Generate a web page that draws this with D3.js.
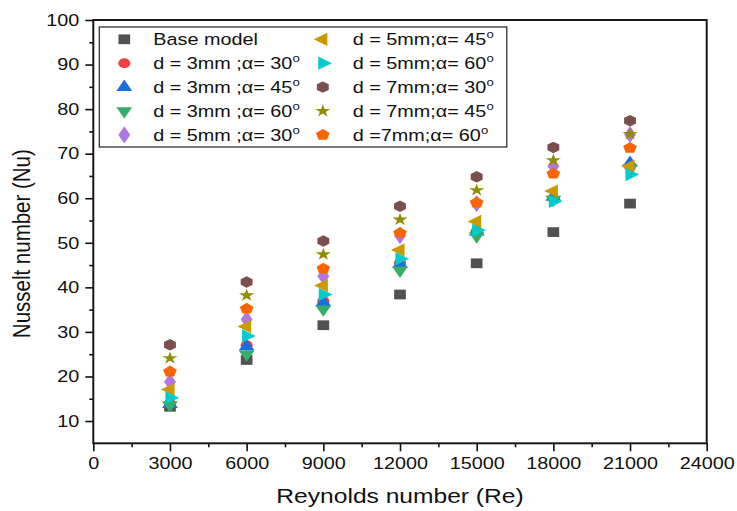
<!DOCTYPE html>
<html>
<head>
<meta charset="utf-8">
<script src="https://cdn.jsdelivr.net/npm/d3@7"></script>
<style>
  body { margin: 0; background: #fff; }
  text { font-family: Arial, "Liberation Sans", sans-serif; fill: #111; }
</style>
</head>
<body>
<div id="chart"></div>
<script>
// Data
const reynolds = [3000, 6000, 9000, 12000, 15000, 18000, 21000]
const baseModel = [13.2, 23.7, 31.5, 38.4, 45.4, 52.4, 58.8]
const d3a30 = [14.0, 27.0, 36.9, 45.5, 52.6, 60.0, 67.1]
const d3a45 = [13.8, 26.7, 36.6, 45.2, 52.5, 60.3, 67.9]
const d3a60 = [13.6, 25.0, 35.1, 43.8, 51.5, 59.7, 66.8]
const d5a30 = [18.8, 32.8, 42.5, 51.6, 58.8, 67.2, 74.3]
const d5a45 = [17.1, 31.2, 40.4, 48.4, 54.8, 61.6, 67.2]
const d5a60 = [15.2, 29.1, 38.4, 46.4, 52.8, 59.3, 65.3]
const d7a30 = [27.1, 41.2, 50.4, 58.2, 64.8, 71.4, 77.4]
const d7a45 = [24.1, 38.2, 47.4, 55.2, 61.8, 68.5, 74.4]
const d7a60 = [21.1, 35.2, 44.2, 52.2, 59.0, 65.5, 71.3]
const xTicks = [0, 3000, 6000, 9000, 12000, 15000, 18000, 21000, 24000]
const yTicks = [10, 20, 30, 40, 50, 60, 70, 80, 90, 100]

// legend text, angle, values, colour, marker
const series = [
  {pre: 'Base model', ang: null, vals: baseModel, color: '#515151', shape: 'square'},
  {pre: 'd = 3mm ;', ang: '30', vals: d3a30, color: '#f14040', shape: 'circle'},
  {pre: 'd = 3mm ;', ang: '45', vals: d3a45, color: '#1a6fdf', shape: 'up'},
  {pre: 'd = 3mm ;', ang: '60', vals: d3a60, color: '#37ad6b', shape: 'down'},
  {pre: 'd = 5mm ;', ang: '30', vals: d5a30, color: '#b177de', shape: 'diamond'},
  {pre: 'd = 5mm;', ang: '45', vals: d5a45, color: '#cc9900', shape: 'left'},
  {pre: 'd = 5mm;', ang: '60', vals: d5a60, color: '#00cbcc', shape: 'right'},
  {pre: 'd = 7mm;', ang: '30', vals: d7a30, color: '#7d4e4e', shape: 'hexagon'},
  {pre: 'd = 7mm;', ang: '45', vals: d7a45, color: '#8e8e00', shape: 'star'},
  {pre: 'd =7mm;', ang: '60', vals: d7a60, color: '#fb6501', shape: 'pentagon'}
]

// Dimensions
const W = 737, H = 511
const margin = {top: 20, right: 30.3, bottom: 67.7, left: 93.3},
    width = W - margin.left - margin.right,
    height = H - margin.top - margin.bottom
const sx = 1.2   // the source picture is stretched sideways

const svg = d3.select('#chart').append('svg')
    .attr('width', W)
    .attr('height', H)

const g = svg.append('g')
    .attr('transform', 'translate(' + margin.left + ',' + margin.top + ')')

// Scales
const x = d3.scaleLinear().domain([0, 24000]).range([0, width])
const y = d3.scaleLinear().domain([5, 100]).range([height, 0])

// regular polygon symbol types
function polygon(n, rot) {
    return {
        draw(ctx, size) {
            const r = Math.sqrt(size / (n / 2 * Math.sin(2 * Math.PI / n)))
            for (let i = 0; i < n; i++) {
                const a = rot + i * 2 * Math.PI / n
                const px = r * Math.sin(a), py = -r * Math.cos(a)
                if (i === 0) ctx.moveTo(px, py); else ctx.lineTo(px, py)
            }
            ctx.closePath()
        }
    }
}
const shapes = {
    square: {type: d3.symbolSquare, size: 95, rot: 0},
    circle: {type: d3.symbolCircle, size: 80, rot: 0},
    up: {type: d3.symbolTriangle, size: 75, rot: 0},
    down: {type: d3.symbolTriangle, size: 75, rot: 180},
    diamond: {type: d3.symbolDiamond, size: 85, rot: 0},
    left: {type: d3.symbolTriangle, size: 75, rot: -90},
    right: {type: d3.symbolTriangle, size: 75, rot: 90},
    hexagon: {type: polygon(6, 0), size: 85, rot: 0},
    star: {type: d3.symbolStar, size: 50, rot: 0},
    pentagon: {type: polygon(5, 0), size: 85, rot: 0}
}
function markerPath(s) {
    return d3.symbol().type(shapes[s].type).size(shapes[s].size)()
}
function markerTransform(s, px, py) {
    return 'translate(' + px + ',' + py + ') scale(' + sx + ',1) rotate(' + shapes[s].rot + ')'
}

// X axis
const xAxis = g.append('g')
    .attr('transform', 'translate(0,' + height + ')')
    .call(d3.axisBottom(x).tickValues(xTicks).tickFormat(d3.format('d'))
        .tickSize(8).tickSizeOuter(0).tickPadding(6))
g.append('g')
    .attr('transform', 'translate(0,' + height + ')')
    .call(d3.axisBottom(x).tickValues(d3.range(1500, 24000, 3000)).tickSize(4).tickSizeOuter(0).tickFormat(''))

// Y axis
const yAxis = g.append('g')
    .call(d3.axisLeft(y).tickValues(yTicks).tickSize(8).tickSizeOuter(0).tickPadding(5))
g.append('g')
    .call(d3.axisLeft(y).tickValues(d3.range(15, 100, 10)).tickSize(4).tickSizeOuter(0).tickFormat(''))

g.selectAll('.domain').remove()
g.selectAll('.tick line').attr('stroke', '#111').attr('stroke-width', 1.6)
xAxis.selectAll('.tick text')
    .attr('font-size', 16.5)
    .attr('font-family', 'Arial, "Liberation Sans", sans-serif')
    .attr('fill', '#111')
    .attr('transform', 'scale(' + sx + ',1)')
yAxis.selectAll('.tick text')
    .attr('font-size', 16.5)
    .attr('font-family', 'Arial, "Liberation Sans", sans-serif')
    .attr('fill', '#111')
    .attr('x', -14 / sx)
    .attr('transform', 'scale(' + sx + ',1)')

// Frame
g.append('rect')
    .attr('width', width)
    .attr('height', height)
    .attr('fill', 'none')
    .attr('stroke', '#1a1a1a')
    .attr('stroke-width', 2)

// Points
series.forEach(s => {
    g.append('g').selectAll('path')
        .data(s.vals)
        .enter()
        .append('path')
        .attr('d', markerPath(s.shape))
        .attr('transform', (d, i) => markerTransform(s.shape, x(reynolds[i]), y(d)))
        .attr('fill', s.color)
})

// Legend
const legend = g.append('g').attr('transform', 'translate(6,7)')
legend.append('rect')
    .attr('width', 407.5)
    .attr('height', 120)
    .attr('fill', '#fff')
    .attr('stroke', '#333')
    .attr('stroke-width', 1.3)
series.forEach((s, i) => {
    const col = Math.floor(i / 5), row = i % 5
    const item = legend.append('g')
        .attr('transform', 'translate(' + (col * 198.5) + ',' + (12.3 + row * 23.9) + ')')
    item.append('path')
        .attr('d', markerPath(s.shape))
        .attr('transform', markerTransform(s.shape, 25, 0))
        .attr('fill', s.color)
    const t = item.append('text')
        .attr('transform', 'translate(' + (col === 0 ? 54 : 55) + ',6) scale(' + sx + ',1)')
        .attr('font-size', 16.5)
    t.append('tspan').text(s.pre)
    if (s.ang) {
        t.append('tspan').text('α= ' + s.ang)
        t.append('tspan').attr('font-size', 11).attr('dy', -7).text('o')
    }
})

// Axis titles
svg.append('text')
    .attr('transform', 'translate(' + (margin.left + width / 2) + ',503) scale(' + sx + ',1)')
    .attr('text-anchor', 'middle')
    .attr('font-size', 20.5)
    .text('Reynolds number (Re)')
svg.append('text')
    .attr('transform', 'translate(30,' + (margin.top + height / 2 + 12) + ') scale(' + sx + ',1) rotate(-90)')
    .attr('text-anchor', 'middle')
    .attr('font-size', 20.5)
    .text('Nusselt number (Nu)')
</script>
</body>
</html>
